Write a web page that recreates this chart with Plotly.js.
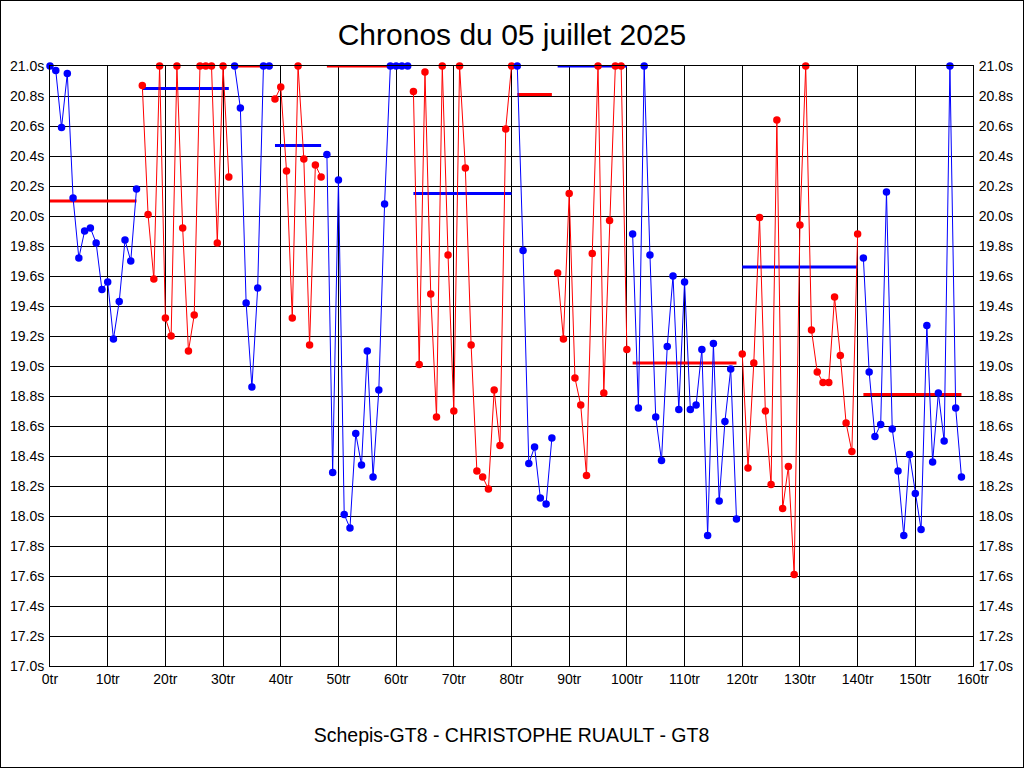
<!DOCTYPE html>
<html>
<head>
<meta charset="utf-8">
<script src="https://cdn.plot.ly/plotly-3.0.1.min.js"></script>
<style>
  html, body { margin: 0; padding: 0; background: #fff; }
  #chart { width: 1024px; height: 768px; }
  #frame { position: fixed; left: 0; top: 0; width: 1024px; height: 768px; box-sizing: border-box; border: 1px solid #000; pointer-events: none; }
</style>
</head>
<body>
<div id="chart"></div>
<div id="frame"></div>
<script>
// Lap numbers where each stint starts
const stintStarts = [0, 16, 32, 39, 48, 63, 81, 88, 101, 120, 141];

// Lap times (seconds) per stint, values above 21.0s shown clipped at 21.0
const stint1 = [21.0, 20.97, 20.59, 20.95, 20.12, 19.72, 19.90, 19.92, 19.82, 19.51, 19.56, 19.18, 19.43, 19.84, 19.70, 20.18];
const stint2 = [20.87, 20.01, 19.58, 21.0, 19.32, 19.20, 21.0, 19.92, 19.10, 19.34, 21.0, 21.0, 21.0, 19.82, 21.0, 20.26];
const stint3 = [21.0, 20.72, 19.42, 18.86, 19.52, 21.0, 21.0];
const stint4 = [20.78, 20.86, 20.30, 19.32, 21.0, 20.38, 19.14, 20.34, 20.26];
const stint5 = [20.41, 18.29, 20.24, 18.01, 17.92, 18.55, 18.34, 19.10, 18.26, 18.84, 20.08, 21.0, 21.0, 21.0, 21.0];
const stint6 = [20.83, 19.01, 20.96, 19.48, 18.66, 21.0, 19.74, 18.70, 21.0, 20.32, 19.14, 18.30, 18.26, 18.18, 18.84, 18.47, 20.58, 21.0];
const stint7 = [21.0, 19.77, 18.35, 18.46, 18.12, 18.08, 18.52];
const stint8 = [19.62, 19.18, 20.15, 18.92, 18.74, 18.27, 19.75, 21.0, 18.82, 19.97, 21.0, 21.0, 19.11];
const stint9 = [19.88, 18.72, 21.0, 19.74, 18.66, 18.37, 19.13, 19.60, 18.71, 19.56, 18.71, 18.74, 19.11, 17.87, 19.15, 18.10, 18.63, 18.98, 17.98];
const stint10 = [19.08, 18.32, 19.02, 19.99, 18.70, 18.21, 20.64, 18.05, 18.33, 17.61, 19.94, 21.0, 19.24, 18.96, 18.89, 18.89, 19.46, 19.07, 18.62, 18.43, 19.88];
const stint11 = [19.72, 18.96, 18.53, 18.61, 20.16, 18.58, 18.30, 17.87, 18.41, 18.15, 17.91, 19.27, 18.36, 18.82, 18.50, 21.0, 18.72, 18.26];

// Average time per stint
const stintAverages = [20.10, 20.85, 21.0, 20.47, 21.0, 20.15, 20.81, 21.0, 19.02, 19.66, 18.81];

// Axis ticks
const xTickVals = [0, 10, 20, 30, 40, 50, 60, 70, 80, 90, 100, 110, 120, 130, 140, 150, 160];
const xTickText = ['0tr', '10tr', '20tr', '30tr', '40tr', '50tr', '60tr', '70tr', '80tr', '90tr', '100tr', '110tr', '120tr', '130tr', '140tr', '150tr', '160tr'];
const yTickVals = [17.0, 17.2, 17.4, 17.6, 17.8, 18.0, 18.2, 18.4, 18.6, 18.8, 19.0, 19.2, 19.4, 19.6, 19.8, 20.0, 20.2, 20.4, 20.6, 20.8, 21.0];
const yTickText = ['17.0s', '17.2s', '17.4s', '17.6s', '17.8s', '18.0s', '18.2s', '18.4s', '18.6s', '18.8s', '19.0s', '19.2s', '19.4s', '19.6s', '19.8s', '20.0s', '20.2s', '20.4s', '20.6s', '20.8s', '21.0s'];

const stints = [stint1, stint2, stint3, stint4, stint5, stint6, stint7, stint8, stint9, stint10, stint11];
const BLUE = '#0000FF', RED = '#FF0000';
const FONT = 'Liberation Sans, Arial, sans-serif';

const traces = [];
// average lines first (drawn below the lap traces)
stints.forEach((s, i) => {
  const start = stintStarts[i];
  const end = start + s.length - 1;
  const col = (i % 2 === 0) ? RED : BLUE;
  traces.push({
    x: [start, end], y: [stintAverages[i], stintAverages[i]],
    mode: 'lines', line: {color: col, width: 3}, hoverinfo: 'skip',
    showlegend: false, cliponaxis: false
  });
});
stints.forEach((s, i) => {
  const start = stintStarts[i];
  const laps = s.map((_, k) => start + k);
  const col = (i % 2 === 0) ? BLUE : RED;
  traces.push({
    x: laps, y: s,
    mode: 'lines+markers',
    line: {color: col, width: 1},
    marker: {color: col, size: 7.5, symbol: 'circle'},
    showlegend: false, cliponaxis: false
  });
});
// dummy trace for right axis
traces.push({x: [null], y: [null], yaxis: 'y2', showlegend: false, hoverinfo: 'skip'});

const yCommon = {
  range: [17.0, 21.0], tickmode: 'array', tickvals: yTickVals, ticktext: yTickText,
  showgrid: true, gridcolor: '#000', gridwidth: 1, zeroline: false,
  showline: true, linecolor: '#000', linewidth: 1, ticks: '', ticklabelstandoff: 2,
  tickfont: {family: FONT, size: 14, color: '#000'}
};

const layout = {
  width: 1024, height: 768,
  margin: {l: 50, r: 51, t: 66, b: 102},
  paper_bgcolor: '#fff', plot_bgcolor: '#fff',
  font: {family: FONT, color: '#000'},
  title: {text: 'Chronos du 05 juillet 2025', x: 0.5, xanchor: 'center', y: 0.955, yref: 'container', yanchor: 'middle',
          font: {family: FONT, size: 30, color: '#000'}},
  xaxis: {
    range: [0, 160], tickmode: 'array', tickvals: xTickVals, ticktext: xTickText,
    showgrid: true, gridcolor: '#000', gridwidth: 1, zeroline: false,
    showline: true, linecolor: '#000', linewidth: 1, mirror: true, ticks: '',
    tickfont: {family: FONT, size: 14, color: '#000'},
    title: {text: 'Schepis-GT8 - CHRISTOPHE RUAULT - GT8', standoff: 42,
            font: {family: FONT, size: 19.5, color: '#000'}}
  },
  yaxis: Object.assign({}, yCommon, {side: 'left'}),
  yaxis2: Object.assign({}, yCommon, {side: 'right', overlaying: 'y', showgrid: false}),
  hovermode: 'closest'
};

Plotly.newPlot('chart', traces, layout, {displayModeBar: false, staticPlot: true});
</script>
</body>
</html>
